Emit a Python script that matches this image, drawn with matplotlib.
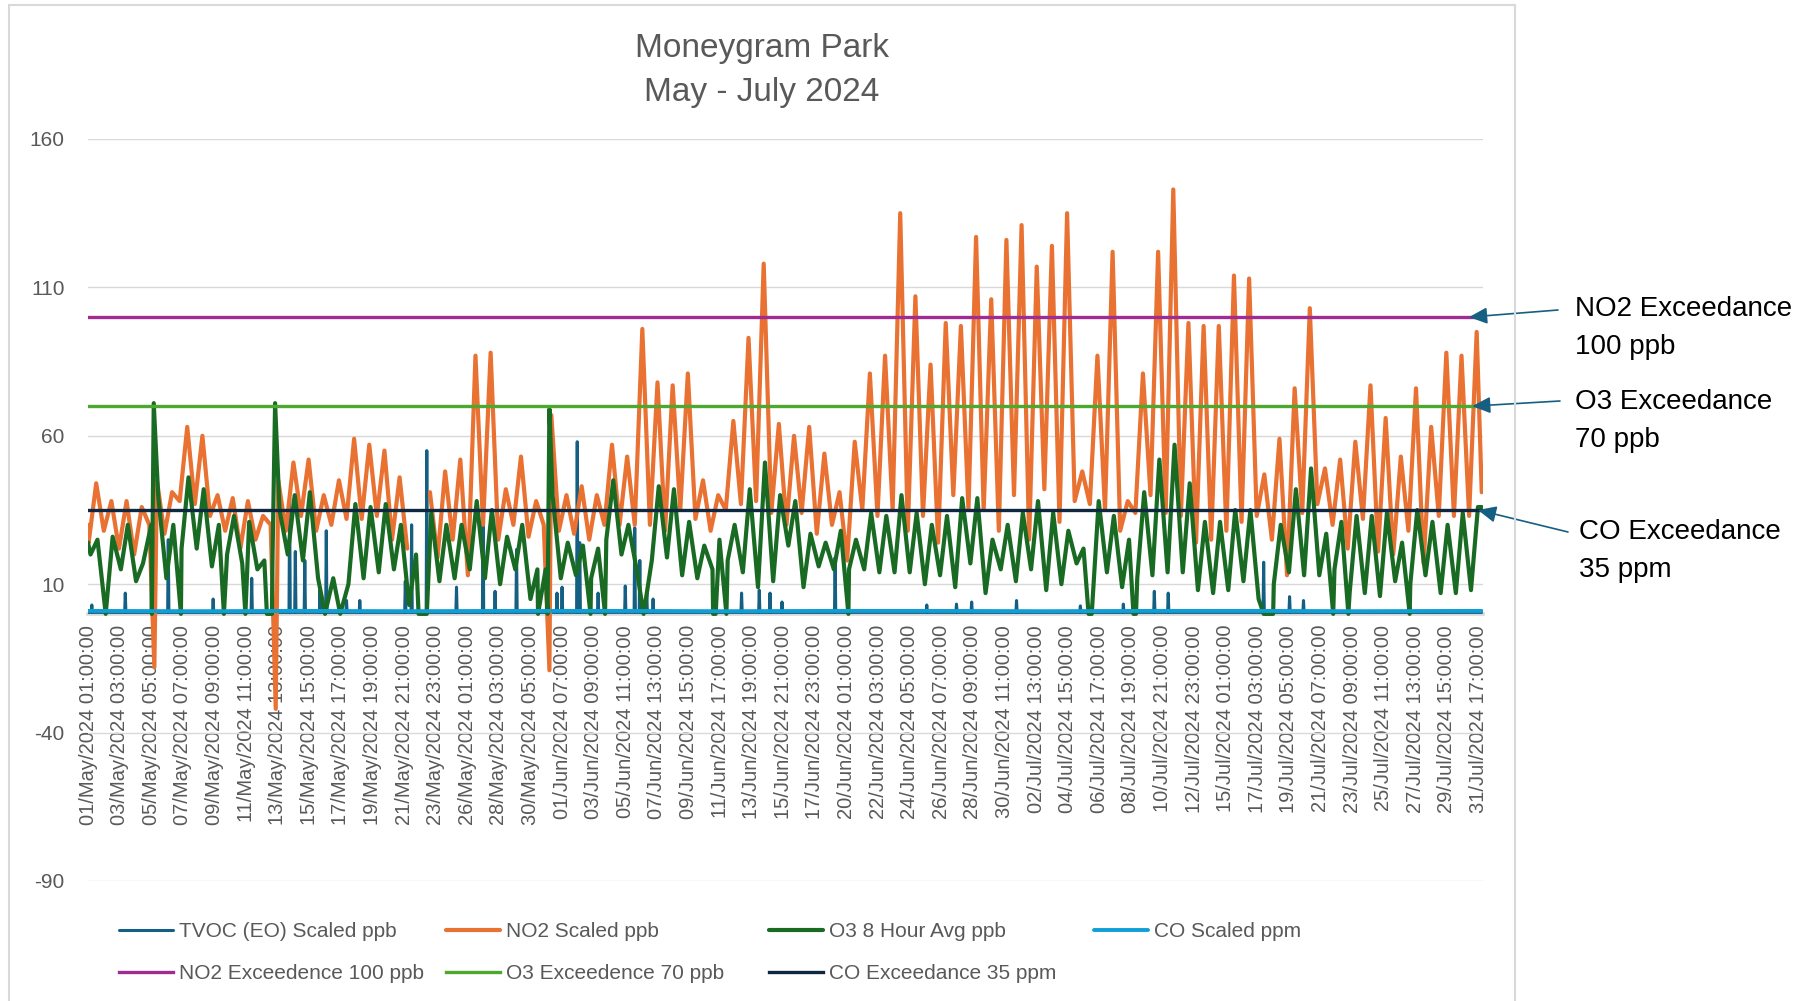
import numpy as np
import pandas as pd
import matplotlib
matplotlib.use("Agg")
import matplotlib.pyplot as plt
from matplotlib.patches import Rectangle
from matplotlib.legend import Legend

plt.rcParams["axes.unicode_minus"] = False

# ---- data (hour index 0 = 01/May/2024 01:00) ----
END_HOUR = 2205

# one high / one low per day, 01 May .. 31 Jul
no2_daily_max = [44, 38, 38, 36, 45, 41, 63, 60, 40, 39, 38, 33, 45, 51,
                 52, 40, 45, 59, 57, 55, 46, 40, 41, 48, 52, 87, 88, 42,
                 53, 38, 67, 40, 43, 40, 57, 53, 96, 78, 77, 81, 45, 40,
                 65, 93, 118, 64, 60, 63, 54, 41, 58, 81, 87, 135, 107, 84,
                 98, 97, 127, 106, 126, 131, 117, 124, 135, 48, 87, 122, 38,
                 81, 122, 143, 98, 97, 97, 114, 113, 47, 59, 76, 103, 49, 52,
                 58, 77, 66, 53, 76, 63, 88, 87, 95]
no2_daily_min = [24, 28, 22, 20, 30, 27, 38, 37, 33, 28, 22, 25, 30, 28,
                 33, 28, 30, 32, 32, 33, 25, 22, 25, 19, 25, 13, 30, 25,
                 30, 26, 30, 28, 27, 25, 30, 30, 30, 30, 28, 35, 32, 28,
                 35, 37, 38, 34, 30, 34, 27, 30, 18, 35, 33, 35, 28, 33,
                 24, 40, 35, 35, 28, 40, 25, 42, 31, 38, 37, 35, 28,
                 34, 40, 34, 33, 24, 25, 28, 31, 33, 25, 13, 34, 37, 30,
                 22, 32, 21, 20, 28, 17, 33, 33, 33]
o3_daily_max = [25, 26, 30, 17, 40, 30, 46, 42, 30, 33, 31, 18, 35, 40,
                41, 30, 28, 37, 36, 37, 30, 20, 34, 30, 30, 38, 35, 26,
                30, 15, 40, 24, 23, 22, 45, 30, 50, 43, 42, 31, 23, 25,
                30, 42, 51, 40, 38, 27, 24, 28, 25, 34, 33, 40, 34, 30,
                33, 39, 39, 25, 30, 34, 38, 34, 28, 22, 38, 33, 25,
                41, 52, 57, 44, 31, 31, 35, 35, 22, 30, 42, 49, 27, 31,
                33, 33, 34, 24, 35, 31, 30, 34, 36]
o3_daily_min = [20, 20, 15, 11, 30, 12, 22, 22, 16, 20, 17, 15, 20, 20,
                18, 12, 12, 10, 12, 14, 15, 3, 15, 11, 12, 15, 12, 10,
                15, 5, 15, 12, 13, 12, 25, 20, 15, 18, 19, 13, 12, 15,
                18, 14, 9, 11, 23, 9, 16, 15, 15, 15, 14, 14, 14, 10,
                13, 9, 17, 7, 15, 11, 15, 8, 10, 17, 18, 14, 9,
                12, 13, 14, 14, 8, 7, 8, 11, 5, 10, 14, 13, 13, 15,
                7, 7, 6, 11, 10, 13, 7, 7, 8]
no2_first, no2_last = 30, 41
o3_first, o3_last = 24, 36

# short events: (hour, value)
no2_dips = [(105, -18), (297, -32), (730, -19)]
no2_gap = (508, 535)
o3_spikes = [(104, 71), (296, 71), (730, 69)]
o3_zero_hours = [28, 101, 147, 215, 249, 283, 291, 375, 399, 712, 727, 795, 818,
                 879, 989, 993, 1010, 1203, 1970, 1994, 2091]
o3_zero_spans = [(523, 536), (1583, 1588), (1654, 1658), (1860, 1875)]

tvoc_base = 0.5
tvoc_spikes = [(6, 3), (59, 7), (127, 25), (198, 5), (259, 12), (319, 39), (328, 21),
               (343, 18), (367, 8), (377, 28), (409, 4.5), (430, 4.5), (502, 11),
               (512, 30), (536, 55), (583, 9), (625, 45), (644, 7.6), (678, 21.7),
               (742, 7), (750, 9), (774, 58), (778, 24), (807, 7), (850, 9.4),
               (865, 29), (873, 18), (884, 7), (894, 5), (1034, 7), (1062, 8),
               (1079, 7), (1098, 4), (1182, 19), (1327, 3), (1374, 3.3), (1398, 4),
               (1469, 4.5), (1570, 2.7), (1638, 3.3), (1687, 7.6), (1709, 7),
               (1860, 17.4), (1901, 5.8), (1923, 4.5)]

co_weekly = [1.0, 0.9, 1.0, 0.9, 1.0, 1.0, 0.9, 1.0, 1.0, 0.9, 1.0, 1.0, 0.9, 1.0, 1.0]

limits = [("NO2 Exceedence 100 ppb", 100, "#A02B93"),
          ("O3 Exceedence 70 ppb", 70, "#4EA72E"),
          ("CO Exceedance 35 ppm", 35, "#0E2841")]

GREY = "#595959"
FONT = "Liberation Sans"


def daily_points(lows, highs, low_hr, high_hr, first, last):
    pts = {0: first}
    for d, (lo, hi) in enumerate(zip(lows, highs)):
        pts[24 * d + low_hr] = lo
        pts[24 * d + high_hr] = hi
    pts = {h: v for h, v in pts.items() if h < END_HOUR}
    pts[END_HOUR] = last
    return pts


def to_xy(pts):
    hrs = sorted(pts)
    return np.array(hrs, dtype=float), np.array([pts[h] for h in hrs], dtype=float)


no2 = daily_points(no2_daily_min, no2_daily_max, 1, 13, no2_first, no2_last)
no2 = {h: v for h, v in no2.items() if not (no2_gap[0] <= h <= no2_gap[1])}
no2[sum(no2_gap) / 2] = np.nan
no2.update(dict(no2_dips))

o3 = daily_points(o3_daily_min, o3_daily_max, 4, 15, o3_first, o3_last)
for a, b in o3_zero_spans:
    o3 = {h: v for h, v in o3.items() if not (a <= h <= b)}
    o3[a] = 0
    o3[b] = 0
o3.update({h: 0 for h in o3_zero_hours})
o3.update(dict(o3_spikes))

tvoc = {0: tvoc_base, END_HOUR: tvoc_base}
for h, v in tvoc_spikes:
    tvoc.setdefault(h - 1, tvoc_base)
    tvoc.setdefault(h + 1, tvoc_base)
    tvoc[h] = v

co_hours = np.append(np.arange(len(co_weekly) - 1) * 168, END_HOUR)

# ---- figure ----
W, H = 1817, 1001
fig = plt.figure(figsize=(W / 100, H / 100), dpi=100)
fig.patches.append(Rectangle((9 / W, -0.02), (1515 - 9) / W, 1.02 - 5 / H,
                             transform=fig.transFigure, fill=False,
                             edgecolor="#d9d9d9", lw=1.5))
ax = fig.add_axes([88 / W, 1 - 881 / H, (1483 - 88) / W, (881 - 139) / H])

kw = dict(solid_joinstyle="round", solid_capstyle="round")
ln_tvoc, = ax.plot(*to_xy(tvoc), color="#156082", lw=2.2, zorder=3, **kw)
ln_no2, = ax.plot(*to_xy(no2), color="#E97132", lw=3.0, zorder=4, **kw)
ln_o3, = ax.plot(*to_xy(o3), color="#196B24", lw=3.0, zorder=5, **kw)
ln_co, = ax.plot(co_hours, co_weekly, color="#0F9ED5", lw=2.8, zorder=6, **kw)
ln_lim = [ax.plot([0, END_HOUR], [level, level], color=col, lw=2.4, zorder=7)[0]
          for name, level, col in limits]

ax.set_xlim(0, 2207)
ax.set_ylim(-90, 160)
ax.set_yticks(np.arange(-90, 161, 50))
ax.yaxis.grid(True, color="#d9d9d9", lw=1.0)
ax.set_axisbelow(True)
for s in ["top", "right", "left"]:
    ax.spines[s].set_visible(False)
ax.spines["bottom"].set_position(("data", 0))
ax.spines["bottom"].set_color("#d9d9d9")
ax.spines["bottom"].set_linewidth(2.6)
ax.spines["bottom"].set_zorder(2)

tick_hours = np.arange(0, 2201, 50)
stamps = pd.date_range("2024-05-01 01:00", periods=END_HOUR + 1, freq="h")
ax.set_xticks(tick_hours)
ax.set_xticklabels(stamps[tick_hours].strftime("%d/%b/%Y %H:%M:%S"),
                   rotation=90, fontsize=14.5, color=GREY, family=FONT)
ax.tick_params(axis="x", length=0, pad=8)
ax.tick_params(axis="y", length=0, pad=17, labelsize=15, labelcolor=GREY)
for t in ax.get_yticklabels():
    t.set_family(FONT)

fig.text(762 / W, 1 - 48 / H, "Moneygram Park", ha="center", va="center",
         fontsize=24, color=GREY, family=FONT)
fig.text(762 / W, 1 - 92 / H, "May - July 2024", ha="center", va="center",
         fontsize=24, color=GREY, family=FONT)

# legend: four columns, same column starts as the original
legend_cols = [[(ln_tvoc, "TVOC (EO) Scaled ppb"), (ln_lim[0], limits[0][0])],
               [(ln_no2, "NO2 Scaled ppb"), (ln_lim[1], limits[1][0])],
               [(ln_o3, "O3 8 Hour Avg ppb"), (ln_lim[2], limits[2][0])],
               [(ln_co, "CO Scaled ppm")]]
col_x = [119, 446, 769, 1094]
for cx, entries in zip(col_x, legend_cols):
    leg = Legend(fig, [e[0] for e in entries], [e[1] for e in entries],
                 loc="upper left", bbox_to_anchor=(cx / W, 1 - 922 / H),
                 bbox_transform=fig.transFigure, frameon=False, borderpad=0,
                 borderaxespad=0, handlelength=2.6, handletextpad=0.3,
                 labelspacing=1.1, prop={"family": FONT, "size": 15},
                 labelcolor=GREY)
    fig.add_artist(leg)

# call-outs on the right
callouts = [("NO2 Exceedance", "100 ppb", 100, 2185, 1575, 309, 1558, 310),
            ("O3 Exceedance", "70 ppb", 70, 2190, 1575, 402, 1560, 401),
            ("CO Exceedance", "35 ppm", 35, 2199, 1579, 532, 1568, 532)]
for line1, line2, level, tip_h, tx, ty, ax0, ay0 in callouts:
    fig.text(tx / W, 1 - ty / H, line1, va="center", fontsize=20, family=FONT, color="black")
    fig.text(tx / W, 1 - (ty + 38) / H, line2, va="center", fontsize=20, family=FONT, color="black")
    ax.annotate("", xy=(tip_h, level), xycoords="data",
                xytext=(ax0 / W, 1 - ay0 / H), textcoords="figure fraction",
                arrowprops=dict(arrowstyle="-|>,head_length=0.55,head_width=0.25",
                                color="#156082", lw=1.2, mutation_scale=20,
                                shrinkA=0, shrinkB=0),
                annotation_clip=False, zorder=8)

fig.savefig("out.png", dpi=100)
